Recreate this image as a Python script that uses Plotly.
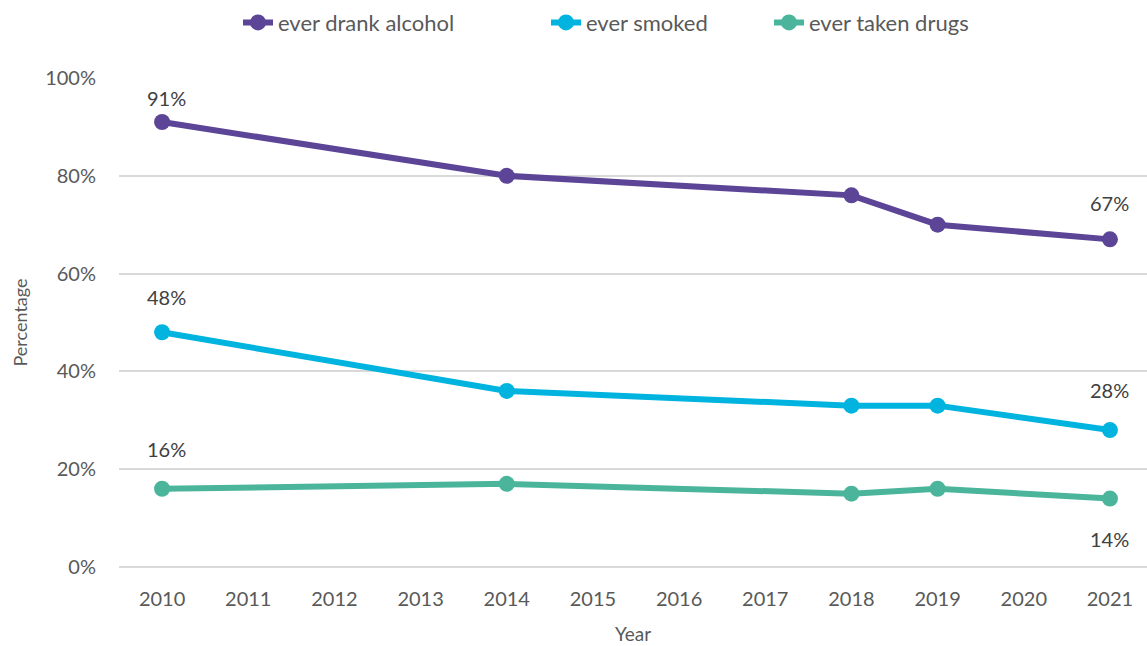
import plotly.graph_objects as go

years = [2010, 2014, 2018, 2019, 2021]
alcohol = [91, 80, 76, 70, 67]
smoked = [48, 36, 33, 33, 28]
drugs = [16, 17, 15, 16, 14]
tick_years = list(range(2010, 2022))
y_ticks = [0, 20, 40, 60, 80, 100]

series = [
    ("ever drank alcohol", alcohol, "#5C4497", "legend"),
    ("ever smoked", smoked, "#00B4DF", "legend2"),
    ("ever taken drugs", drugs, "#4BB59C", "legend3"),
]

font_family = "Lato, 'Open Sans', sans-serif"
grey = "#595959"

fig = go.Figure()
for name, vals, col, leg in series:
    fig.add_trace(go.Scatter(
        x=years, y=vals, name=name, mode="lines+markers",
        line=dict(color=col, width=6),
        marker=dict(color=col, size=16),
        legend=leg,
    ))

# value labels at the first and last year of each series (pixel offsets above/below)
label_shift = {"ever drank alcohol": (24, 36), "ever smoked": (35, 40), "ever taken drugs": (40, -40)}
for name, vals, col, leg in series:
    s0, s1 = label_shift[name]
    for idx, sh in ((0, s0), (len(years) - 1, s1)):
        fig.add_annotation(
            x=years[idx], y=vals[idx], text=f"{vals[idx]}%",
            showarrow=False, yshift=sh, xshift=4 if idx == 0 else 0,
            font=dict(family=font_family, size=20, color="#404040"),
        )

leg_common = dict(orientation="h", yref="container", y=0.965, yanchor="middle",
                  xref="container", xanchor="left",
                  font=dict(size=22, color=grey), bgcolor="rgba(0,0,0,0)")

fig.update_layout(
    width=1147, height=646,
    margin=dict(l=119, r=0, t=78, b=79),
    plot_bgcolor="white", paper_bgcolor="white",
    font=dict(family=font_family, size=20, color=grey),
    legend=dict(x=238 / 1147, **leg_common),
    legend2=dict(x=546 / 1147, **leg_common),
    legend3=dict(x=769 / 1147, **leg_common),
    showlegend=True,
)
fig.update_xaxes(
    range=[2009.5, 2021.43], tickmode="array", tickvals=tick_years,
    ticktext=[str(y) for y in tick_years], showgrid=False, zeroline=False,
    showline=False, ticks="", ticklabelstandoff=18,
    title=dict(text="Year", font=dict(size=19, color=grey), standoff=18),
)
fig.update_yaxes(
    range=[0, 100], tickmode="array", tickvals=y_ticks,
    ticktext=[f"{v}%" for v in y_ticks], showgrid=True, gridcolor="#D9D9D9",
    gridwidth=2, zeroline=True, zerolinecolor="#D9D9D9", zerolinewidth=2,
    ticks="", ticklabelstandoff=22,
    title=dict(text="Percentage", font=dict(size=18, color=grey), standoff=12),
)

fig.write_html("out.html")
